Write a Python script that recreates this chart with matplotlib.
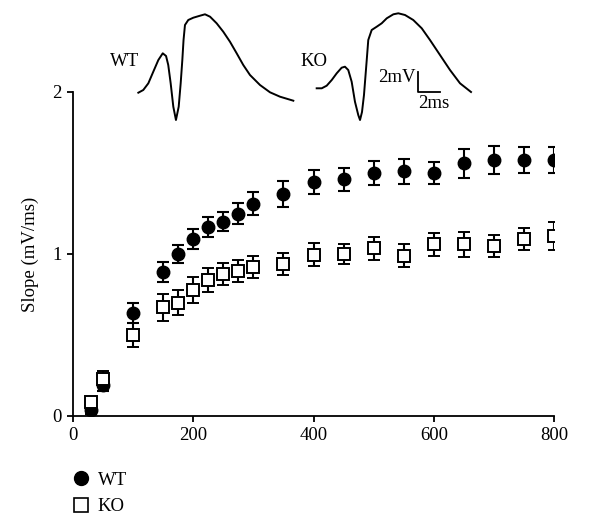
import matplotlib.pyplot as plt
from matplotlib.lines import Line2D

# Dados do gráfico principal
freq = [30, 50, 100, 150, 175, 200, 225, 250, 275, 300, 350, 400,
        450, 500, 550, 600, 650, 700, 750, 800]
wt_mean = [0.035, 0.19, 0.635, 0.89, 1.0, 1.09, 1.165, 1.20, 1.25, 1.31, 1.37, 1.445,
           1.46, 1.50, 1.51, 1.50, 1.56, 1.58, 1.58, 1.58]
wt_err = [0.02, 0.035, 0.064, 0.06, 0.057, 0.062, 0.062, 0.06, 0.063, 0.07, 0.08, 0.072,
          0.072, 0.073, 0.075, 0.07, 0.088, 0.085, 0.08, 0.08]
ko_mean = [0.087, 0.23, 0.50, 0.67, 0.70, 0.78, 0.84, 0.875, 0.895, 0.92, 0.94, 0.995,
           1.00, 1.035, 0.99, 1.06, 1.06, 1.05, 1.09, 1.11]
ko_err = [0.02, 0.045, 0.075, 0.082, 0.076, 0.08, 0.073, 0.067, 0.067, 0.066, 0.067, 0.072,
          0.064, 0.073, 0.07, 0.072, 0.076, 0.07, 0.068, 0.088]

# Traços de exemplo (ms, mV)
wt_t = [0.03, 0.48, 0.94, 1.39, 1.85, 2.25, 2.55, 2.75, 2.97, 3.21, 3.45, 3.70, 3.88,
        4.03, 4.14, 4.27, 4.57, 5.03, 5.64, 6.09, 6.55, 7.15, 7.75, 8.36, 8.97, 9.57,
        10.18, 11.09, 12.0, 12.91, 14.12]
wt_v = [-0.07, 0.2, 0.87, 2.03, 3.2, 3.87, 3.6, 2.7, 0.87, -1.47, -2.8, -1.47, 0.87,
        3.2, 5.2, 6.7, 7.2, 7.43, 7.63, 7.77, 7.53, 6.87, 6.03, 5.03, 3.87, 2.7,
        1.7, 0.7, -0.03, -0.47, -0.87]
ko_t = [-0.12, 0.34, 0.79, 1.25, 1.7, 2.15, 2.45, 2.75, 3.06, 3.36, 3.66, 3.82, 4.0,
        4.18, 4.43, 4.57, 4.88, 5.34, 5.79, 6.25, 6.85, 7.3, 7.91, 8.66, 9.43, 10.18,
        11.09, 12.0, 12.91, 13.91]
ko_v = [0.37, 0.37, 0.63, 1.2, 1.87, 2.43, 2.53, 2.2, 1.03, -0.97, -2.3, -2.8, -2.0,
        -0.3, 3.2, 5.2, 6.2, 6.53, 6.87, 7.37, 7.77, 7.87, 7.7, 7.2, 6.37, 5.2,
        3.7, 2.2, 0.87, 0.0]

plt.rcParams['font.family'] = ['Liberation Serif', 'DejaVu Serif']

W, H = 590, 532
fig = plt.figure(figsize=(W / 100, H / 100), dpi=100)


def px_axes(x0, y0, x1, y1):
    # caixa em pixels (origem no canto superior esquerdo)
    return [x0 / W, 1 - y1 / H, (x1 - x0) / W, (y1 - y0) / H]


ax = fig.add_axes(px_axes(73, 92, 554, 416))
ax.errorbar(freq, wt_mean, yerr=wt_err, fmt='o', color='black', ms=9,
            capsize=4, elinewidth=1.5, capthick=1.5, zorder=3)
ax.errorbar(freq, ko_mean, yerr=ko_err, fmt='s', mfc='white', mec='black', mew=1.4,
            color='black', ms=8.5, capsize=4, elinewidth=1.5, capthick=1.5, zorder=4)
ax.set_xlim(0, 800)
ax.set_ylim(0, 2)
ax.set_xticks([0, 200, 400, 600, 800])
ax.set_yticks([0, 1, 2])
ax.spines['top'].set_visible(False)
ax.spines['right'].set_visible(False)
for s in ['left', 'bottom']:
    ax.spines[s].set_linewidth(1.3)
ax.tick_params(direction='out', length=4, width=1.3, labelsize=13.5, pad=4)
ax.set_ylabel('Slope (mV/ms)', fontsize=13.5, labelpad=10)

# Legenda
handles = [Line2D([], [], marker='o', ls='', color='black', ms=10),
           Line2D([], [], marker='s', ls='', mfc='white', mec='black', mew=1.2, ms=10)]
fig.legend(handles, ['WT', 'KO'], loc='upper left', bbox_to_anchor=(62 / W, 1 - 464 / H),
           frameon=False, fontsize=13.5, handletextpad=0.3, handlelength=1.2,
           labelspacing=0.5, borderaxespad=0)

# Traços inseridos
xl = (-8 / 11, 162 / 11)
yl = (-3.3, 9.2)
for box, t, v, name, tx in [((130, 0, 300, 125), wt_t, wt_v, 'WT', 125),
                           ((310, 0, 480, 125), ko_t, ko_v, 'KO', 314)]:
    ins = fig.add_axes(px_axes(*box))
    ins.plot(t, v, color='black', lw=1.4, solid_joinstyle='round')
    ins.set_xlim(*xl)
    ins.set_ylim(*yl)
    ins.axis('off')
    fig.text(tx / W, 1 - 62 / H, name, ha='center', va='center', fontsize=13.5)
    if name == 'KO':
        ins.plot([9.09, 9.09, 11.09], [2, 0, 0], color='black', lw=1.3)
        ins.text(8.9, 1.5, '2mV', ha='right', va='center', fontsize=13.5)
        ins.text(9.1, -1.1, '2ms', ha='left', va='center', fontsize=13.5)

fig.savefig('out.png', dpi=100)
